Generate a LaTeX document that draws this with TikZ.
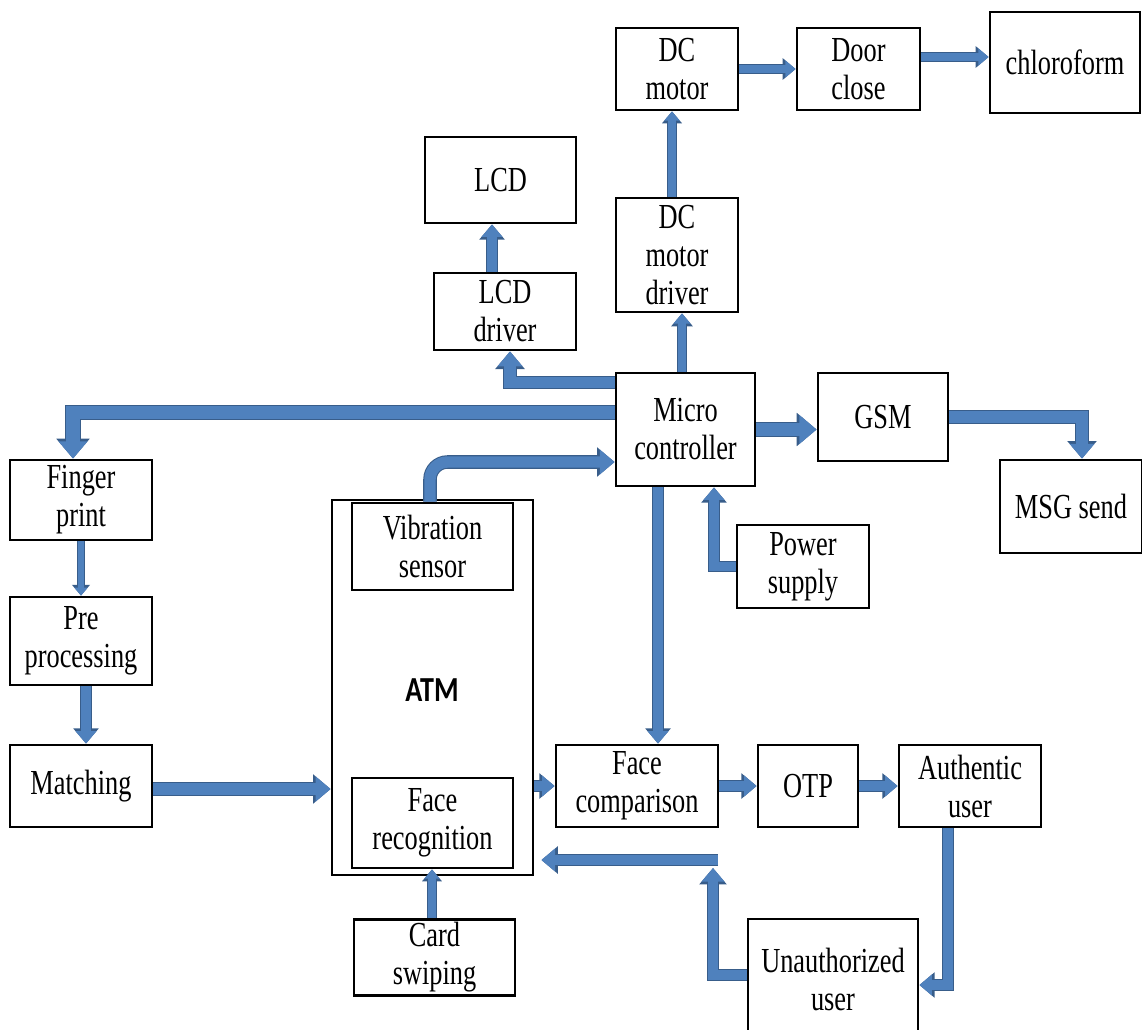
\documentclass[tikz,border=0pt]{standalone}
\usepackage{fontspec}
\usetikzlibrary{arrows.meta}
\newfontfamily\lbl{Liberation Serif}[FakeStretch=0.75]
\newfontfamily\atmfont{Carlito}[FakeStretch=0.8]
\definecolor{arrowfill}{RGB}{79,129,189}
\definecolor{arrowedge}{RGB}{56,93,138}
\tikzset{
  box/.style={draw,line width=1.6pt,fill=white,align=center,inner sep=1pt,
    font=\lbl\fontsize{20}{21.6}\selectfont},
  blk/.style={line width=#1,draw=arrowfill,-{Triangle[length=0pt 1.3,width=0pt 2.1]},
    preaction={draw=arrowedge,line width=#1+1.2pt,-{Triangle[length=0pt 1.3,width=0pt 2.1]}}},
  blk/.default=5.5pt
}
\begin{document}
\begin{tikzpicture}
\useasboundingbox (0,0) rectangle (22.84,-20.58);
% boxes
\node[box,minimum width=2.44cm,minimum height=1.64cm] (dcm) at (13.54,-1.38) {DC\\motor};
\node[box,minimum width=2.46cm,minimum height=1.64cm] (door) at (17.17,-1.38) {Door\\close};
\node[box,minimum width=3.0cm,minimum height=2.02cm] (chloro) at (21.3,-1.25) {chloroform};
\node[box,minimum width=3.02cm,minimum height=1.72cm] (lcd) at (10.01,-3.6) {LCD};
\node[box,minimum width=2.84cm,minimum height=1.54cm] (lcddrv) at (10.1,-6.23) {LCD\\driver};
\node[box,minimum width=2.44cm,minimum height=2.28cm] (dcdrv) at (13.54,-5.1) {DC\\motor\\driver};
\node[box,minimum width=2.78cm,minimum height=2.26cm] (mc) at (13.71,-8.59) {Micro\\controller};
\node[box,minimum width=2.6cm,minimum height=1.76cm] (gsm) at (17.66,-8.34) {GSM};
\node[box,minimum width=2.84cm,minimum height=1.86cm] (msg) at (21.42,-10.13) {MSG send};
\node[box,minimum width=2.84cm,minimum height=1.6cm] (finger) at (1.62,-10.0) {Finger\\print};
\node[box,minimum width=2.84cm,minimum height=1.76cm] (pre) at (1.62,-12.82) {Pre\\processing};
\node[box,minimum width=2.84cm,minimum height=1.64cm] (match) at (1.62,-15.72) {Matching};
\node[box,minimum width=4.02cm,minimum height=7.5cm] (atm) at (8.65,-13.75) {};
\node[font=\atmfont\bfseries\fontsize{20}{24}\selectfont] (atmlbl) at (8.64,-13.8) {ATM};
\node[box,minimum width=3.22cm,minimum height=1.74cm] (vib) at (8.65,-10.93) {Vibration\\sensor};
\node[box,minimum width=3.22cm,minimum height=1.8cm] (facerec) at (8.65,-16.46) {Face\\recognition};
\node[box,minimum width=3.22cm,minimum height=1.52cm] (card) at (8.69,-19.15) {Card\\swiping};
\node[box,minimum width=2.64cm,minimum height=1.66cm] (power) at (16.06,-11.33) {Power\\supply};
\node[box,minimum width=3.24cm,minimum height=1.64cm] (facecmp) at (12.74,-15.72) {Face\\comparison};
\node[box,minimum width=2.0cm,minimum height=1.64cm] (otp) at (16.16,-15.72) {OTP};
\node[box,minimum width=2.84cm,minimum height=1.64cm] (auth) at (19.4,-15.72) {Authentic\\user};
\node[box,minimum width=3.4cm,minimum height=2.42cm] (unauth) at (16.66,-19.59) {Unauthorized\\user};
\coordinate (ret) at (14.36,-17.2);
\coordinate (retup) at (14.26,-17.36);
% arrows
\draw[blk=6.5pt] ([yshift=-0.22cm]mc.north west) -| ([xshift=0.1cm]lcddrv.south);
\draw[blk=7.5pt] ([yshift=-0.82cm]mc.north west) -| ([xshift=-0.16cm]finger.north);
\draw[blk=6.5pt,rounded corners=0.35cm] ([xshift=-0.05cm]vib.north) |- ([yshift=-0.65cm]mc.west);
\draw[blk=7.5pt] (mc.east) -- (gsm.west |- mc.east);
\draw[blk=6.5pt] (gsm.east) -| ([xshift=0.22cm]msg.north);
\draw[blk=4.5pt] ([xshift=-0.07cm]mc.north) -- ([xshift=-0.07cm]mc.north |- dcdrv.south);
\draw[blk=4pt] ([xshift=-0.1cm]dcdrv.north) -- ([xshift=-0.1cm]dcm.south);
\draw[blk=4.5pt] (dcm.east) -- (door.west);
\draw[blk=4.5pt] ([yshift=0.24cm]door.east) -- ([yshift=0.24cm]door.east -| chloro.west);
\draw[blk] ([xshift=-0.26cm]lcddrv.north) -- ([xshift=-0.26cm]lcddrv.north |- lcd.south);
\draw[blk] (power.west) -| ([xshift=0.57cm]mc.south);
\draw[blk] ([xshift=-0.55cm]mc.south) -- ([xshift=-0.55cm]mc.south |- facecmp.north);
\draw[blk=3.5pt] (finger.south) -- (finger.south |- pre.north);
\draw[blk] ([xshift=0.1cm]pre.south) -- ([xshift=0.1cm]match.north);
\draw[blk=6.5pt] ([yshift=-0.06cm]match.east) -- ([yshift=-0.06cm]match.east -| atm.west);
\draw[blk] (facecmp.west -| atm.east) -- (facecmp.west);
\draw[blk] (facecmp.east) -- (otp.west);
\draw[blk] (otp.east) -- (auth.west);
\draw[blk] ([xshift=-0.44cm]auth.south) |- ([yshift=-0.11cm]unauth.east);
\draw[blk=6pt] ([yshift=0.09cm]unauth.west) -| (retup);
\draw[blk=6pt] (ret) -- ([xshift=0.14cm]atm.east |- ret);
\draw[blk=4pt] ([xshift=-0.05cm]card.north) -- ([xshift=-0.05cm]card.north |- facerec.south);
\end{tikzpicture}
\end{document}
